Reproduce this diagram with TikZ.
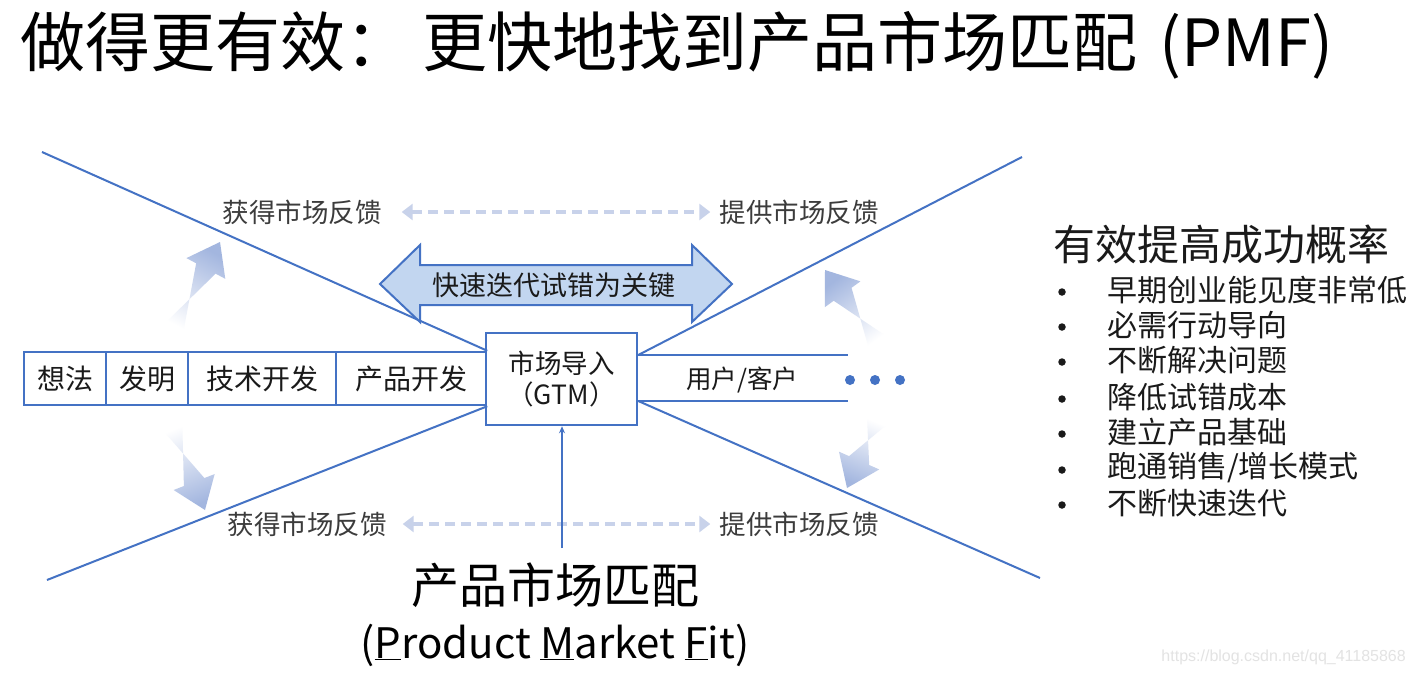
\documentclass[tikz,border=0pt]{standalone}
\usepackage{fontspec}
\setmainfont{Noto Sans CJK SC}
\newfontfamily\wmfont{Liberation Sans}
\usetikzlibrary{arrows.meta,calc}
\definecolor{lineblue}{HTML}{4472C4}
\definecolor{arrowfill}{HTML}{C2D6F0}
\definecolor{dashblue}{HTML}{C8D2EA}
\definecolor{fadeblue}{HTML}{A3B6DF}
\definecolor{txt}{HTML}{1A1A1A}
\newcommand{\fsz}[1]{\fontsize{#1}{#1}\selectfont}
\newcommand{\fadearrow}[3]{%
  \shade[top color=fadeblue, bottom color=white, shading angle=#3]
    ($(#1)!11pt!90:(#2)$) -- ($($(#2)!30pt!(#1)$)!11pt!-90:(#2)$) --
    ($($(#2)!30pt!(#1)$)!22pt!-90:(#2)$) -- (#2) --
    ($($(#2)!30pt!(#1)$)!22pt!90:(#2)$) -- ($($(#2)!30pt!(#1)$)!11pt!90:(#2)$) --
    ($(#1)!11pt!-90:(#2)$) -- cycle;}
\begin{document}
\begin{tikzpicture}[x=1pt,y=-1pt,
  bline/.style={draw=lineblue, line width=2pt},
  cell/.style={draw=lineblue, line width=2.5pt, fill=white, minimum height=53pt, inner sep=0pt, font=\fsz{28}, text=txt},
  fbtext/.style={font=\fsz{26.5}, text=txt!85, inner sep=0pt},
  fbarrow/.style={draw=dashblue, line width=3.5pt, dash pattern=on 10pt off 6pt,
    {Triangle[length=11pt,width=16pt,fill=dashblue]}-{Triangle[length=11pt,width=16pt,fill=dashblue]}},
  item/.style={font=\fsz{30}, text=txt, anchor=west, inner sep=0pt},
  bul/.style={circle, fill=txt, minimum size=7.5pt, inner sep=0pt}]
\useasboundingbox (0,0) rectangle (1416,675);
\fill[white] (0,0) rectangle (1416,675);

% title
\node[anchor=west, inner sep=0pt, font=\fsz{65}, text=black] (title) at (20,45) {做得更有效：\hspace{12pt}更快地找到产品市场匹配\hspace{8pt} (PMF)};

% coordinates
\coordinate (ul) at (42,152);
\coordinate (ll) at (47,580);
\coordinate (ur) at (1022,157);
\coordinate (lr) at (1040,578);
\coordinate (hr1) at (848,355);
\coordinate (hr2) at (848,401);

% process bar
\node[cell, minimum width=82pt] (c1) at (65,378.5) {想法};
\node[cell, minimum width=82pt] (c2) at (147,378.5) {发明};
\node[cell, minimum width=148pt] (c3) at (262,378.5) {技术开发};
\node[cell, minimum width=150pt] (c4) at (411,378.5) {产品开发};
\node[cell, minimum width=151pt, minimum height=92pt, align=center, font=\fsz{26.5}] (gtm) at (561.5,379) {市场导入\\[5pt]（GTM）};

% diagonal lines
\draw[bline] (ul) -- (c4.north east);
\draw[bline] (ll) -- (c4.south east);
\draw[bline] (gtm.east |- hr1) -- (ur);
\draw[bline] (gtm.east |- hr2) -- (lr);
\draw[bline] (gtm.east |- hr1) -- (hr1);
\draw[bline] (gtm.east |- hr2) -- (hr2);
\node[font=\fsz{25.5}, text=txt, inner sep=0pt] (user) at (742,380) {用户/客户};
\foreach \i/\x in {1/850,2/875,3/900}{\fill[lineblue] (\x,380) circle (5pt);}

% big double arrow
\draw[draw=lineblue, line width=2pt, fill=arrowfill]
  (380,284) -- (420,245) -- (420,265) -- (692,265) -- (692,245) -- (732,284)
  -- (692,322) -- (692,305) -- (420,305) -- (420,322) -- cycle;
\node[font=\fsz{27}, text=txt, inner sep=0pt] (key) at (554,285) {快速迭代试错为关键};

% feedback
\node[fbtext] (fl1) at (302,212) {获得市场反馈};
\node[fbtext] (fr1) at (799,212) {提供市场反馈};
\node[fbtext] (fl2) at (307,524) {获得市场反馈};
\node[fbtext] (fr2) at (799,524) {提供市场反馈};
\draw[fbarrow] ([xshift=20pt]fl1.east) -- ([xshift=-9pt]fr1.west);
\draw[fbarrow] ([xshift=16pt]fl2.east) -- ([xshift=-9pt]fr2.west);

% fade arrows
\coordinate (a1t) at (173,330); \coordinate (a1h) at (220,242);
\coordinate (a2t) at (172,425); \coordinate (a2h) at (205,510);
\coordinate (a3t) at (878,343); \coordinate (a3h) at (825,270);
\coordinate (a4t) at (877,420); \coordinate (a4h) at (847,488);
\fadearrow{a1t}{a1h}{-28}
\fadearrow{a2t}{a2h}{-158}
\fadearrow{a3t}{a3h}{36}
\fadearrow{a4t}{a4h}{-202}

% bottom labels and arrow
\node[font=\fsz{48}, text=black, inner sep=0pt] (pmf) at (555,585) {产品市场匹配};
\node[font=\fsz{42}, text=black, inner sep=0pt] (pmfen) at (555,645) {(\underline{P}roduct \underline{M}arket \underline{F}it)};
\coordinate (vb) at (562,548);
\draw[bline, -{Stealth[length=7pt,width=6pt]}] (vb) -- (vb |- gtm.south);

% right list
\node[anchor=west, inner sep=0pt, font=\fsz{42}, text=txt] (rt) at (1053,245) {有效提高成功概率};
\foreach \n/\y/\t in {1/290/{早期创业能见度非常低}, 2/325/{必需行动导向}, 3/360/{不断解决问题}, 4/397/{降低试错成本}, 5/432/{建立产品基础}, 6/468/{跑通销售/增长模式}, 7/503/{不断快速迭代}}{
  \node[bul] (b\n) at (1062,\y+2) {};
  \node[item] (i\n) at (1107,\y) {\t};
}

% watermark
\node[anchor=east, inner sep=0pt, font=\wmfont\fontsize{16}{16}\selectfont, text=gray!22] (wm) at (1406,657) {https://blog.csdn.net/qq\_41185868};
\end{tikzpicture}
\end{document}
